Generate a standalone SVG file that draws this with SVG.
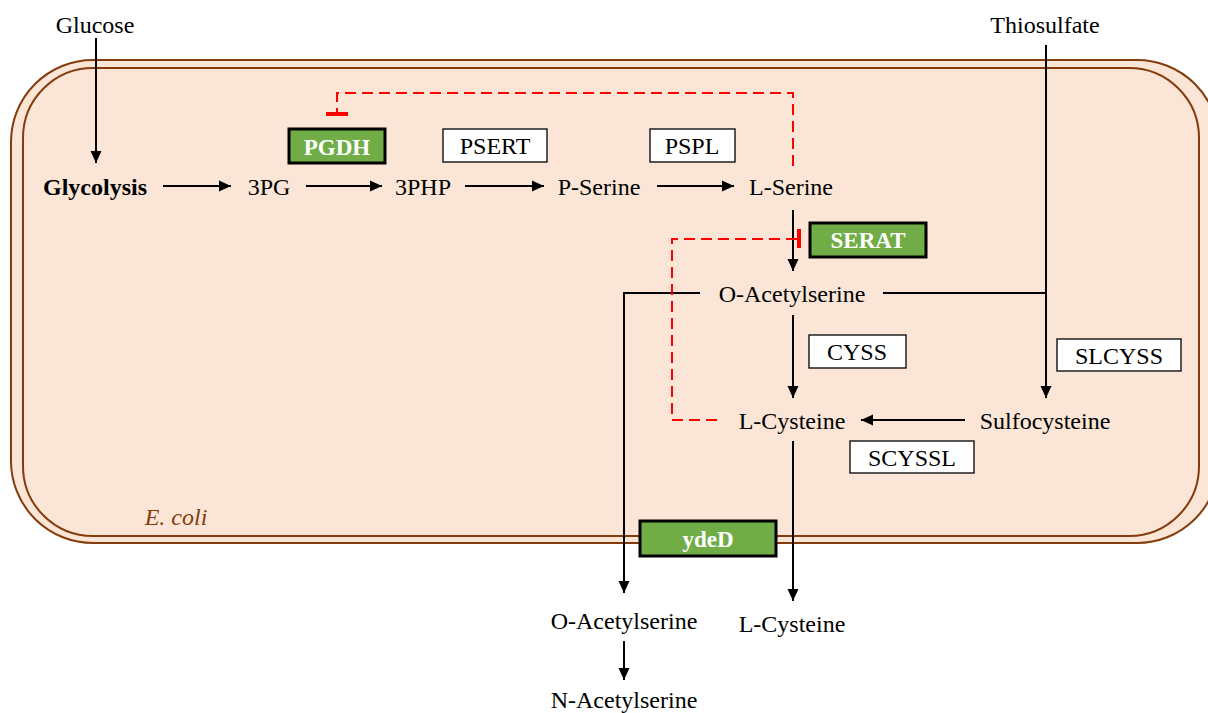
<svg xmlns="http://www.w3.org/2000/svg" width="1208" height="713" viewBox="0 0 1208 713">
<defs>
<marker id="ah" viewBox="0 0 12 12" refX="12" refY="6" markerWidth="12" markerHeight="12" markerUnits="userSpaceOnUse" orient="auto">
<path d="M0,0.5 L12,6 L0,11.5 z" fill="#000"/>
</marker>
<style>
text{font-family:"Liberation Serif","Times New Roman","DejaVu Serif",serif;font-size:24px;fill:#000;text-anchor:middle;dominant-baseline:central}
.b{font-weight:bold}
.w{fill:#fff;font-weight:bold;font-size:23px}
.ln{stroke:#000;stroke-width:2;fill:none}
.ar{stroke:#000;stroke-width:2;fill:none;marker-end:url(#ah)}
.inh{stroke:#ff0000;stroke-width:2;fill:none;stroke-dasharray:11,6}
.bar{stroke:#ff0000;stroke-width:4;fill:none}
.en{fill:#fff;stroke:#000;stroke-width:1.3}
.gr{fill:#70ad47;stroke:#000;stroke-width:3}
</style>
</defs>
<g font-family="Liberation Serif, Times New Roman, serif">
<g id="cell">
<rect x="11" y="60" width="1208" height="483" rx="82" ry="82" fill="#fbe5d6" stroke="#843c0c" stroke-width="2"/>
<rect x="23" y="68" width="1176" height="468" rx="70" ry="70" fill="#fbe5d6" stroke="#843c0c" stroke-width="2"/>
<text x="176" y="517" style="font-style:italic;fill:#843c0c">E. coli</text>
</g>
<g id="connectors">
<line class="ar" x1="96" y1="38" x2="96" y2="163"/>
<line class="ar" x1="1046" y1="45" x2="1046" y2="398"/>
<line class="ar" x1="163" y1="186" x2="231" y2="186"/>
<line class="ar" x1="306" y1="186" x2="382" y2="186"/>
<line class="ar" x1="465" y1="186" x2="544" y2="186"/>
<line class="ar" x1="657" y1="186" x2="734" y2="186"/>
<line class="ar" x1="793" y1="210" x2="793" y2="271"/>
<line class="ar" x1="793" y1="315" x2="793" y2="398"/>
<line class="ar" x1="965" y1="420" x2="861" y2="420"/>
<line class="ar" x1="793" y1="441" x2="793" y2="601"/>
<polyline class="ar" points="700,293 624,293 624,593"/>
<line class="ln" x1="883" y1="293" x2="1046" y2="293"/>
<line class="ar" x1="624" y1="641" x2="624" y2="680"/>
<polyline class="inh" points="793,166 793,93 337,93 337,112"/>
<line class="bar" x1="326" y1="114" x2="348" y2="114"/>
<polyline class="inh" points="797,239 672,239 672,420 722,420"/>
<line class="bar" x1="799" y1="229" x2="799" y2="248"/>
</g>
<g id="glucose"><text x="95" y="25">Glucose</text></g>
<g id="thiosulfate"><text x="1045" y="25">Thiosulfate</text></g>
<g id="glycolysis"><text class="b" x="95" y="187">Glycolysis</text></g>
<g id="n3pg"><text x="269" y="187">3PG</text></g>
<g id="n3php"><text x="423" y="187">3PHP</text></g>
<g id="pserine"><text x="599" y="187">P-Serine</text></g>
<g id="lserine"><text x="791" y="187">L-Serine</text></g>
<g id="pgdh"><rect class="gr" x="289" y="129" width="96" height="34"/><text class="w" x="337" y="147">PGDH</text></g>
<g id="psert"><rect class="en" x="443" y="129" width="104" height="33"/><text x="495" y="146">PSERT</text></g>
<g id="pspl"><rect class="en" x="650" y="129" width="85" height="33"/><text x="692" y="146">PSPL</text></g>
<g id="serat"><rect class="gr" x="810" y="223" width="116" height="34"/><text class="w" x="868" y="240">SERAT</text></g>
<g id="oas"><text x="792" y="294">O-Acetylserine</text></g>
<g id="cyss"><rect class="en" x="809" y="335" width="97" height="33"/><text x="857" y="352">CYSS</text></g>
<g id="slcyss"><rect class="en" x="1057" y="339" width="124" height="32"/><text x="1119" y="356">SLCYSS</text></g>
<g id="lcys"><text x="792" y="421">L-Cysteine</text></g>
<g id="sulfocys"><text x="1045" y="421">Sulfocysteine</text></g>
<g id="scyssl"><rect class="en" x="850" y="441" width="124" height="32"/><text x="912" y="458">SCYSSL</text></g>
<g id="yded"><rect class="gr" x="640" y="521" width="136" height="35"/><text class="w" x="708" y="539">ydeD</text></g>
<g id="oas_out"><text x="624" y="621">O-Acetylserine</text></g>
<g id="lcys_out"><text x="792" y="624">L-Cysteine</text></g>
<g id="nas"><text x="624" y="700">N-Acetylserine</text></g>
</g>
</svg>
